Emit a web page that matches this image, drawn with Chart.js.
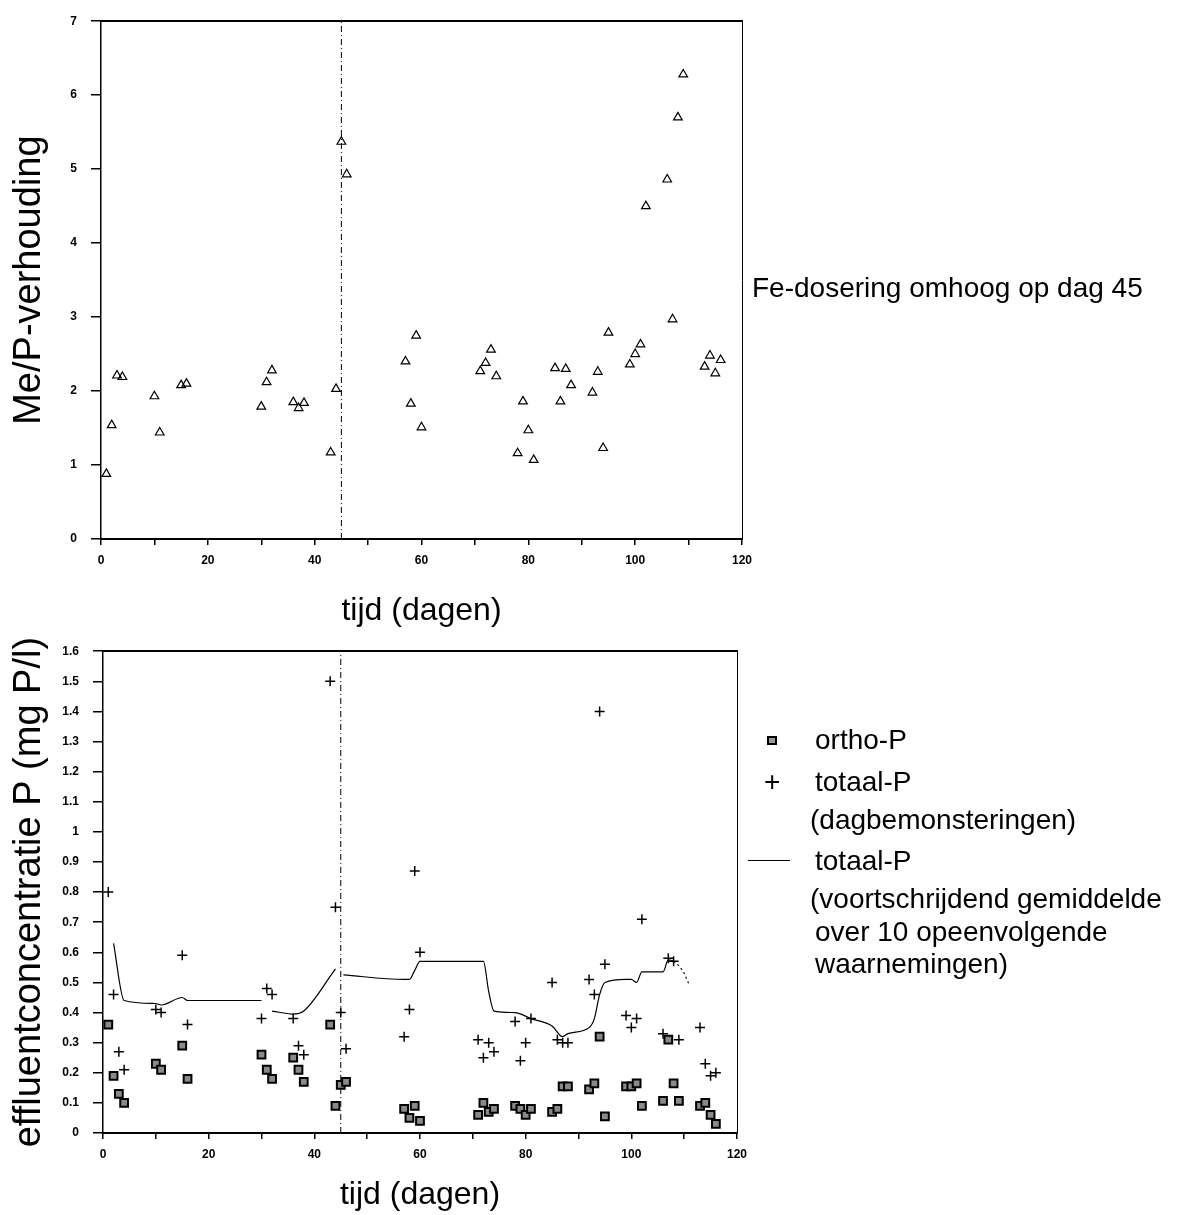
<!DOCTYPE html>
<html lang="nl">
<head>
<meta charset="utf-8">
<title>Me/P-verhouding en effluentconcentratie P</title>
<script src="https://cdn.jsdelivr.net/npm/chart.js@4.4.1/dist/chart.umd.min.js"></script>
<style>
    html, body { margin: 0; padding: 0; background: #fff; }
    body {
        width: 1180px; height: 1215px; position: relative; overflow: hidden;
        font-family: "Liberation Sans", Arial, sans-serif; color: #000;
    }
    canvas { position: absolute; left: 0; }
    #meChart { top: 0; }
    #pChart { top: 630px; }
    .txt { position: absolute; font-size: 28px; line-height: 28px; white-space: nowrap; }
    .sq { position: absolute; width: 6px; height: 5px; border: 2px solid #000; background: #999; }
    .ln { position: absolute; height: 0; border-top: 1px solid #000; }
</style>
</head>
<body>
<canvas id="meChart" width="1180" height="630"></canvas>
<canvas id="pChart" width="1180" height="585"></canvas>

<div class="txt" style="left:752px; top:274px;">Fe-dosering omhoog op dag 45</div>

<!-- legenda onderste grafiek -->
<div class="sq" style="left:767px; top:736px;"></div>
<div class="txt" style="left:815px; top:726px;">ortho-P</div>
<div class="txt" style="left:764px; top:768px;">+</div>
<div class="txt" style="left:815px; top:768px;">totaal-P</div>
<div class="txt" style="left:810px; top:806px;">(dagbemonsteringen)</div>
<div class="ln" style="left:748px; top:860px; width:42px;"></div>
<div class="txt" style="left:815px; top:847px;">totaal-P</div>
<div class="txt" style="left:810px; top:885px;">(voortschrijdend gemiddelde</div>
<div class="txt" style="left:815px; top:918px;">over 10 opeenvolgende</div>
<div class="txt" style="left:815px; top:950px;">waarnemingen)</div>

<script>
// dag waarop de Fe-dosering omhoog ging
const fedoseringDag = 45;

// Me/P-verhouding (bovenste grafiek)
const meDagen = [1, 2, 3, 4, 10, 11, 15, 16, 30, 31, 32, 36, 37, 38, 43, 44, 45, 46,
    57, 58, 59, 60, 71, 72, 73, 74, 78, 79, 80, 81, 85, 86, 87, 88, 92, 93, 94, 95,
    99, 100, 101, 102, 106, 107, 108, 109, 113, 114, 115, 116];
const meP = [0.88, 1.54, 2.21, 2.19, 1.93, 1.44, 2.08, 2.10, 1.79, 2.12, 2.28, 1.85, 1.77, 1.84,
    1.17, 2.03, 5.37, 4.93, 2.40, 1.83, 2.75, 1.51, 2.27, 2.38, 2.56, 2.20, 1.16, 1.86, 1.47, 1.07,
    2.31, 1.86, 2.30, 2.08, 1.98, 2.26, 1.23, 2.79, 2.36, 2.50, 2.63, 4.50, 4.86, 2.97, 5.70, 6.28,
    2.33, 2.48, 2.24, 2.42];

// effluentconcentratie (onderste grafiek)
const orthoDagen = [1, 2, 3, 4, 10, 11, 15, 16, 30, 31, 32, 36, 37, 38, 43, 44, 45, 46,
    57, 58, 59, 60, 71, 72, 73, 74, 78, 79, 80, 81, 85, 86, 87, 88, 92, 93, 94, 95,
    99, 100, 101, 102, 106, 107, 108, 109, 113, 114, 115, 116];
const orthoP = [0.36, 0.19, 0.13, 0.10, 0.23, 0.21, 0.29, 0.18, 0.26, 0.21, 0.18, 0.25, 0.21, 0.17,
    0.36, 0.09, 0.16, 0.17, 0.08, 0.05, 0.09, 0.04, 0.06, 0.10, 0.07, 0.08, 0.09, 0.08, 0.06, 0.08,
    0.07, 0.08, 0.155, 0.155, 0.145, 0.165, 0.32, 0.055, 0.155, 0.155, 0.165, 0.09,
    0.107, 0.31, 0.165, 0.107, 0.09, 0.10, 0.06, 0.03];

const totaalDagen = [1, 2, 3, 4, 10, 11, 15, 16, 30, 31, 32, 36, 37, 38, 43, 44, 45, 46,
    57, 58, 59, 60, 71, 72, 73, 74, 78, 79, 80, 81, 85, 86, 87, 88, 92, 93, 94, 95,
    99, 100, 101, 102, 106, 107, 108, 109, 113, 114, 115, 116];
const totaalP = [0.80, 0.46, 0.27, 0.21, 0.41, 0.40, 0.59, 0.36, 0.38, 0.48, 0.46, 0.38, 0.29, 0.26,
    1.50, 0.75, 0.40, 0.28, 0.32, 0.41, 0.87, 0.60, 0.31, 0.25, 0.30, 0.27, 0.37, 0.24, 0.30, 0.38,
    0.50, 0.31, 0.30, 0.30, 0.51, 0.46, 1.40, 0.56, 0.39, 0.35, 0.38, 0.71,
    0.33, 0.58, 0.57, 0.31, 0.35, 0.23, 0.19, 0.20];

// voortschrijdend gemiddelde over 10 waarnemingen (null = onderbreking)
const gemDagen = [2, 4, 10, 11, 15, 16, 30, 31, 32, 36, 38, 44, 45, 45.5, 57, 58, 59, 60,
    72, 73, 74, 78, 81, 85, 87, 88, 92, 93, 94, 95, 99, 100, 101, 102, 106, 107, 108, 109, 110, 111];
const gemP = [0.63, 0.44, 0.43, 0.425, 0.45, 0.44, 0.44, null, 0.405, 0.395, 0.405, 0.545, null, 0.525,
    0.51, 0.51, 0.54, 0.57, 0.57, 0.47, 0.405, 0.40, 0.38, 0.355, 0.32, 0.33, 0.35, 0.38, 0.46, 0.50,
    0.51, 0.51, 0.50, 0.535, 0.535, 0.575, 0.57, 0.555, 0.53, 0.49];

const toPoints = (xs, ys) => xs.map((x, i) => ({ x: x, y: ys[i] }));
const tickFont = { family: '"Liberation Sans", Arial, sans-serif', size: 12, weight: 'bold' };
const titleFont = size => ({ family: '"Liberation Sans", Arial, sans-serif', size: size, lineHeight: 1 });

function buildScales(yMax, yStep, yTitle, xHeight, yWidth, xTitleBottom, yLabel) {
    return {
        x: {
            type: 'linear', position: 'bottom', min: 0, max: 120,
            ticks: {
                stepSize: 10, autoSkip: false, maxRotation: 0, color: '#000', font: tickFont, padding: 8,
                callback: v => (v % 20 === 0 ? v : ''),
            },
            grid: { drawOnChartArea: false, tickLength: 6, color: '#000', lineWidth: 1.5 },
            border: { color: '#000', width: 2 },
            title: {
                display: true, text: 'tijd (dagen)', color: '#000', font: titleFont(32),
                padding: { top: 0, bottom: xTitleBottom },
            },
            afterFit: s => { s.height = xHeight; },
        },
        y: {
            type: 'linear', position: 'left', min: 0, max: yMax,
            ticks: { stepSize: yStep, color: '#000', font: tickFont, padding: 14, callback: yLabel },
            grid: { drawOnChartArea: false, tickLength: 10, color: '#000', lineWidth: 1.5 },
            border: { color: '#000', width: 1.5 },
            title: {
                display: true, text: yTitle, color: '#000', font: titleFont(38),
                padding: { top: 11, bottom: 0 },
            },
            afterFit: s => { s.width = yWidth; },
        },
        x2: {
            axis: 'x', type: 'linear', position: 'top', min: 0, max: 120,
            ticks: { display: false }, grid: { display: false },
            border: { color: '#000', width: 2 },
            afterFit: s => { s.height = 0; },
        },
        y2: {
            axis: 'y', type: 'linear', position: 'right', min: 0, max: yMax,
            ticks: { display: false }, grid: { display: false },
            border: { color: '#000', width: 1, dash: [2, 6] },
            afterFit: s => { s.width = 0; },
        },
    };
}

function doseringLijn(yMax) {
    return {
        type: 'line',
        label: 'Fe-dosering omhoog',
        data: [{ x: fedoseringDag, y: 0 }, { x: fedoseringDag, y: yMax }],
        borderColor: '#000',
        borderWidth: 1,
        borderDash: [6, 3, 1, 3],
        pointRadius: 0,
    };
}

// bovenste grafiek: Me/P-verhouding
new Chart(document.getElementById('meChart'), {
    type: 'scatter',
    data: {
        datasets: [
            {
                label: 'Me/P-verhouding',
                data: toPoints(meDagen, meP),
                pointStyle: 'triangle',
                pointRadius: 5,
                borderColor: '#000',
                backgroundColor: 'rgba(255,255,255,0)',
                borderWidth: 1.2,
            },
            doseringLijn(7),
        ],
    },
    options: {
        responsive: false,
        animation: false,
        layout: { padding: { left: 0, top: 17, right: 438, bottom: 0 } },
        plugins: { legend: { display: false }, tooltip: { enabled: false } },
        scales: buildScales(7, 1, 'Me/P-verhouding', 91, 101, 3, v => v),
    },
});

// onderste grafiek: effluentconcentratie P
new Chart(document.getElementById('pChart'), {
    type: 'scatter',
    data: {
        datasets: [
            {
                label: 'ortho-P',
                data: toPoints(orthoDagen, orthoP),
                pointStyle: 'rect',
                pointRadius: 5.5,
                borderColor: '#000',
                backgroundColor: '#8a8a8a',
                borderWidth: 2,
            },
            {
                label: 'totaal-P (dagbemonsteringen)',
                data: toPoints(totaalDagen, totaalP),
                pointStyle: 'cross',
                pointRadius: 5,
                borderColor: '#000',
                borderWidth: 1.5,
            },
            {
                type: 'line',
                label: 'totaal-P (voortschrijdend gemiddelde)',
                data: toPoints(gemDagen, gemP),
                borderColor: '#000',
                borderWidth: 1.2,
                pointRadius: 0,
                spanGaps: false,
                cubicInterpolationMode: 'monotone',
                segment: {
                    borderDash: ctx => (ctx.p0.parsed.x >= 108 ? [2, 3] : undefined),
                },
            },
            doseringLijn(1.6),
        ],
    },
    options: {
        responsive: false,
        animation: false,
        layout: { padding: { left: 0, top: 10, right: 443, bottom: 0 } },
        plugins: { legend: { display: false }, tooltip: { enabled: false } },
        scales: buildScales(1.6, 0.1, 'effluentconcentratie P (mg P/l)', 82, 103, 4,
            v => String(Math.round(v * 10) / 10)),
    },
});
</script>
</body>
</html>
